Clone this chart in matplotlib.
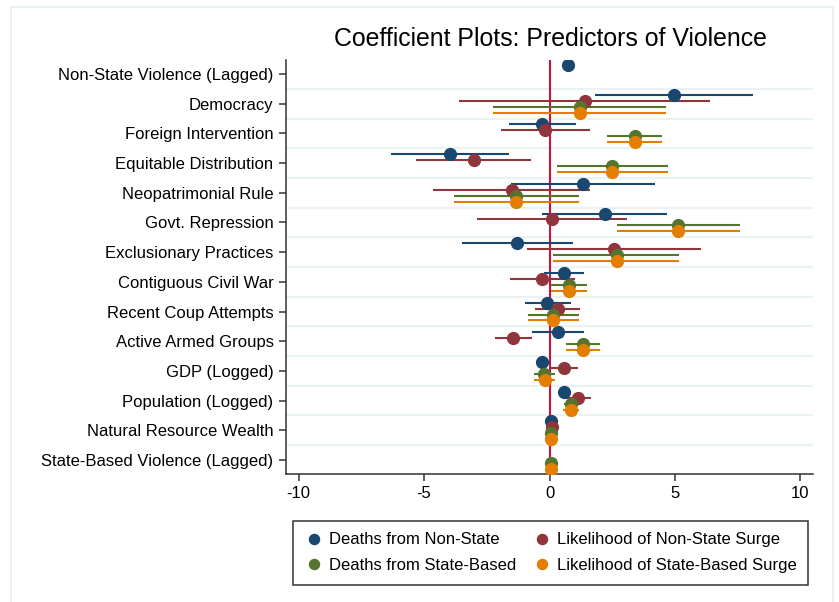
import numpy as np
import matplotlib.pyplot as plt
from matplotlib.patches import Rectangle

plt.rcParams['font.family'] = ['Liberation Sans', 'DejaVu Sans']
plt.rcParams['axes.unicode_minus'] = False

predictors = [
    'Non-State Violence (Lagged)', 'Democracy', 'Foreign Intervention',
    'Equitable Distribution', 'Neopatrimonial Rule', 'Govt. Repression',
    'Exclusionary Practices', 'Contiguous Civil War', 'Recent Coup Attempts',
    'Active Armed Groups', 'GDP (Logged)', 'Population (Logged)',
    'Natural Resource Wealth', 'State-Based Violence (Lagged)',
]

nan = np.nan

# coefficient, lower bound, upper bound for each model
nonstate_deaths = [0.74, 4.95, -0.29, -3.97, 1.34, 2.20, -1.29, 0.56, -0.09, 0.35, -0.30, 0.57, 0.06, nan]
nonstate_deaths_lo = [0.70, 1.83, -1.62, -6.31, -1.54, -0.29, -3.50, -0.23, -0.98, -0.68, -0.55, 0.45, 0.02, nan]
nonstate_deaths_hi = [0.78, 8.10, 1.05, -1.61, 4.22, 4.70, 0.94, 1.37, 0.85, 1.37, 0.00, 0.70, 0.10, nan]

nonstate_surge = [nan, 1.41, -0.19, -3.02, -1.51, 0.11, 2.58, -0.28, 0.33, -1.45, 0.56, 1.13, 0.08, nan]
nonstate_surge_lo = [nan, -3.59, -1.94, -5.30, -4.65, -2.87, -0.89, -1.58, -0.56, -2.19, 0.00, 0.58, 0.04, nan]
nonstate_surge_hi = [nan, 6.41, 1.61, -0.74, 1.63, 3.09, 6.04, 1.00, 1.20, -0.69, 1.14, 1.67, 0.12, nan]

state_deaths = [nan, 1.21, 3.39, 2.50, -1.33, 5.14, 2.67, 0.77, 0.15, 1.33, -0.20, 0.85, 0.04, 0.04]
state_deaths_lo = [nan, -2.26, 2.28, 0.28, -3.81, 2.68, 0.15, 0.04, -0.86, 0.66, -0.60, 0.57, 0.00, 0.00]
state_deaths_hi = [nan, 4.66, 4.49, 4.73, 1.17, 7.60, 5.17, 1.49, 1.18, 2.03, 0.23, 1.18, 0.08, 0.08]

state_surge = [nan, 1.21, 3.39, 2.50, -1.33, 5.14, 2.67, 0.77, 0.15, 1.33, -0.17, 0.85, 0.04, 0.04]
state_surge_lo = [nan, -2.26, 2.28, 0.28, -3.81, 2.68, 0.15, 0.04, -0.86, 0.66, -0.60, 0.55, 0.00, 0.00]
state_surge_hi = [nan, 4.66, 4.49, 4.73, 1.17, 7.60, 5.17, 1.49, 1.18, 2.03, 0.23, 1.18, 0.08, 0.08]

series = [
    ('Deaths from Non-State', nonstate_deaths, nonstate_deaths_lo, nonstate_deaths_hi, '#1a476f', -0.3),
    ('Likelihood of Non-State Surge', nonstate_surge, nonstate_surge_lo, nonstate_surge_hi, '#90353b', -0.1),
    ('Deaths from State-Based', state_deaths, state_deaths_lo, state_deaths_hi, '#55752f', 0.1),
    ('Likelihood of State-Based Surge', state_surge, state_surge_lo, state_surge_hi, '#e37e00', 0.3),
]

fig = plt.figure(figsize=(8.39, 6.02), dpi=100)
ax = fig.add_axes([286 / 839, 1 - 474 / 602, (813 - 286) / 839, (474 - 60) / 602])

ypos = np.arange(len(predictors))
grid_color = '#eaf2f3'

for y in ypos[:-1] + 0.5:
    ax.axhline(y, color=grid_color, lw=1.6, zorder=0)

ax.axvline(0, color='#c8143c', lw=1.5, zorder=1)

handles = {}
for name, est, lo, hi, color, off in series:
    est = np.array(est)
    lo = np.array(lo)
    hi = np.array(hi)
    y = ypos + off
    ax.hlines(y, lo, hi, color=color, lw=1.5, zorder=2)
    h, = ax.plot(est, y, 'o', color=color, ms=8.5, mec=color, zorder=3, label=name)
    handles[name] = h

ax.set_xlim(-10.5, 10.5)
ax.set_ylim(len(predictors) - 0.53, -0.47)
ax.set_xticks([-10, -5, 0, 5, 10])
ax.set_yticks(ypos)
ax.set_yticklabels(predictors)
ax.tick_params(axis='both', labelsize=12, length=5, width=1.1, color='#333333')
ax.tick_params(axis='y', pad=4)
ax.tick_params(axis='x', pad=4)

for side in ['top', 'right']:
    ax.spines[side].set_visible(False)
for side in ['left', 'bottom']:
    ax.spines[side].set_color('#333333')
    ax.spines[side].set_linewidth(1.1)

fig.text(550 / 839, 1 - 39 / 602, 'Coefficient Plots: Predictors of Violence',
         ha='center', va='center', fontsize=17.9)

order = ['Deaths from Non-State', 'Deaths from State-Based',
         'Likelihood of Non-State Surge', 'Likelihood of State-Based Surge']
leg = fig.legend([handles[k] for k in order], order, ncol=2,
                 loc='upper left', mode='expand', borderaxespad=0,
                 bbox_to_anchor=(293 / 839, 1 - 584 / 602, (808 - 293) / 839, (584 - 521) / 602),
                 bbox_transform=fig.transFigure, fontsize=12, frameon=True,
                 fancybox=False, edgecolor='#333333', framealpha=1,
                 handletextpad=0.3, handlelength=1.2, borderpad=0.68,
                 labelspacing=0.65, markerscale=0.85)
leg.get_frame().set_linewidth(1.1)

# light outer frame around the whole graph
fig.patches.append(Rectangle((11 / 839, -0.01), (833 - 11) / 839, 1 - 7 / 602 + 0.01,
                             transform=fig.transFigure, fill=False,
                             edgecolor=grid_color, lw=1.5))

fig.savefig('out.png', dpi=100)
